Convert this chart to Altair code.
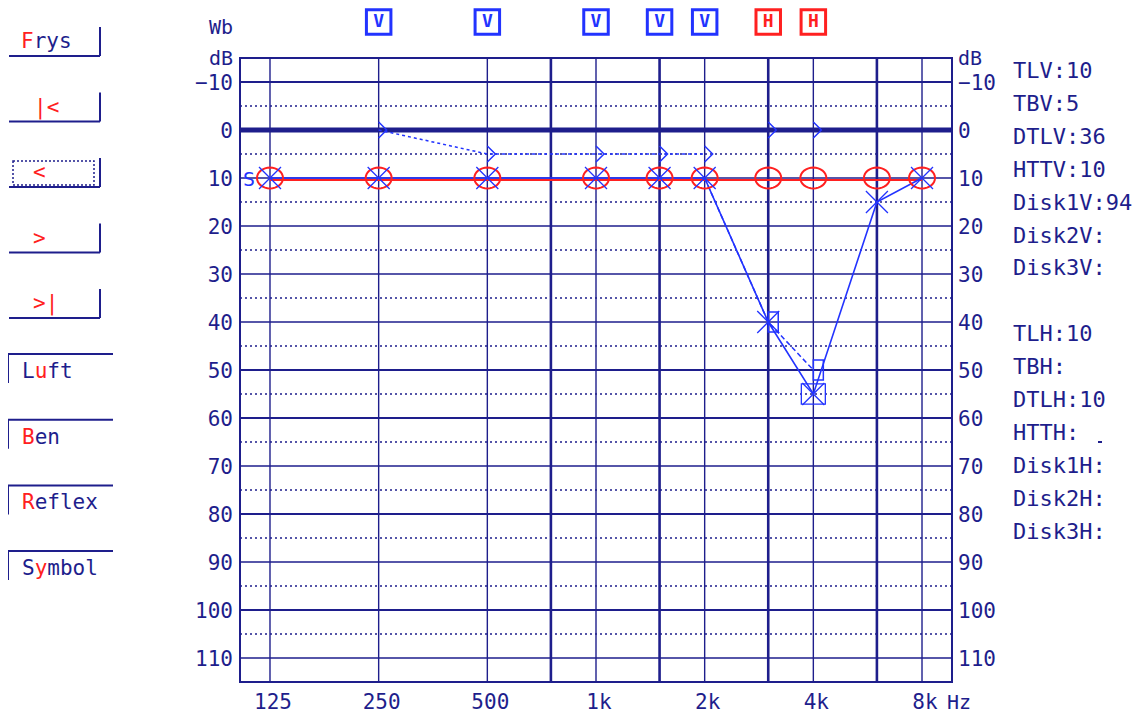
import math
import altair as alt
import pandas as pd

# ---------------- data ----------------
freqs = [125, 250, 500, 1000, 1500, 2000, 3000, 4000, 6000, 8000]
right_air_db = [10, 10, 10, 10, 10, 10, 10, 10, 10, 10]
left_air_db = [10, 10, 10, 10, 10, 10, 40, 55, 15, 10]

bone_freqs = [250, 500, 1000, 1500, 2000]
bone_db = [0, 5, 5, 5, 5]
bone_nr_freqs = [3000, 4000]
bone_nr_db = [0, 0]

masked_freqs = [2000, 3000, 4000]
masked_db = [10, 40, 50]
box_freqs = [4000]
box_db = [55]

flag_v_freqs = [250, 500, 1000, 1500, 2000]
flag_h_freqs = [3000, 4000]

db_major = [-10, 0, 10, 20, 30, 40, 50, 60, 70, 80, 90, 100, 110]
db_labels = ["−10", "0", "10", "20", "30", "40", "50", "60", "70", "80", "90", "100", "110"]
db_minor = [-5, 5, 15, 25, 35, 45, 55, 65, 75, 85, 95, 105]
freq_major = [125, 250, 500, 1000, 2000, 4000, 8000]
freq_labels = ["125", "250", "500", "1k", "2k", "4k", "8k"]
freq_minor = [750, 1500, 3000, 6000]

info_lines = ["TLV:10", "TBV:5", "DTLV:36", "HTTV:10", "Disk1V:94", "Disk2V:", "Disk3V:", "",
              "TLH:10", "TBH:", "DTLH:10", "HTTH:", "Disk1H:", "Disk2H:", "Disk3H:"]

nav_labels = ["Frys", "|<", "<", ">", ">|"]
nav_hot = [[0], [0, 1], [0], [0], [0, 1]]
mode_labels = ["Luft", "Ben", "Reflex", "Symbol"]
mode_hot = [[1], [0], [0], [1]]

# ---------------- style / layout ----------------
W, H = 712, 624
NAVY = "#1e1e8c"
BLUE = "#2233ff"
RED = "#ff2020"
FONT = "DejaVu Sans Mono"
FS = 21
CW = 0.602 * FS

xs = alt.Scale(type="log", base=2, domain=[125 * 2 ** -0.276, 8000 * 2 ** 0.276], nice=False)
ys = alt.Scale(domain=[-15, 115], nice=False, zero=False, reverse=True)


def X(f="f"):
    return alt.X(f"{f}:Q", scale=xs, axis=None)


def Y(f="db"):
    return alt.Y(f"{f}:Q", scale=ys, axis=None)


def PX(f):
    return alt.X(f"{f}:Q", scale=None, axis=None)


def PY(f):
    return alt.Y(f"{f}:Q", scale=None, axis=None)


def ellipse_path(ry=0.8, n=32):
    pts = [(math.cos(2 * math.pi * k / n), ry * math.sin(2 * math.pi * k / n)) for k in range(n)]
    return "M" + " L".join(f"{x:.3f},{y:.3f}" for x, y in pts) + " Z"


X_SHAPE = "M-1,-1L1,1M-1,1L1,-1"
BONE_SHAPE = "M0,-1L1,0L0,1"
TALL_RECT = "M0,-1L1,-1L1,1L0,1Z"
BOX_SHAPE = "M-1,-0.85L1,-0.85L1,0.85L-1,0.85Z"

# ---------------- tables ----------------
air = pd.DataFrame({"f": freqs, "right": right_air_db, "left": left_air_db})
bone = pd.DataFrame({"f": bone_freqs, "db": bone_db})
bone_all = pd.DataFrame({"f": bone_freqs + bone_nr_freqs, "db": bone_db + bone_nr_db})
masked = pd.DataFrame({"f": masked_freqs, "db": masked_db})
box = pd.DataFrame({"f": box_freqs, "db": box_db})
flags = pd.DataFrame({"f": flag_v_freqs + flag_h_freqs,
                      "t": ["V"] * len(flag_v_freqs) + ["H"] * len(flag_h_freqs)})
hmaj = pd.DataFrame({"db": db_major, "lab": db_labels})
hmin = pd.DataFrame({"db": db_minor})
vmaj = pd.DataFrame({"f": freq_major, "lab": freq_labels})
vmin = pd.DataFrame({"f": freq_minor})

# UI text, per character (monospace) so hotkey letters can be red
chars = []
rules = []
for i, (lab, hot) in enumerate(zip(nav_labels, nav_hot)):
    yb = 56 + i * 65.5 - 58
    x0 = [21, 34, 33, 33, 33][i] - 240
    for k, ch in enumerate(lab):
        chars.append({"px": x0 + k * CW + CW / 2, "py": yb - 14, "ch": ch, "c": RED if k in hot else NAVY})
    rules.append({"x1": 9 - 240, "x2": 100 - 240, "y1": yb, "y2": yb})
    rules.append({"x1": 100 - 240, "x2": 100 - 240, "y1": yb - 29, "y2": yb})
for i, (lab, hot) in enumerate(zip(mode_labels, mode_hot)):
    yt = 354 + i * 65.7 - 58
    x0 = 22 - 240
    for k, ch in enumerate(lab):
        chars.append({"px": x0 + k * CW + CW / 2, "py": yt + 18, "ch": ch, "c": RED if k in hot else NAVY})
    rules.append({"x1": 8 - 240, "x2": 113 - 240, "y1": yt, "y2": yt})
    rules.append({"x1": 8 - 240, "x2": 8 - 240, "y1": yt, "y2": yt + 29})
rules.append({"x1": 858, "x2": 862, "y1": 384, "y2": 384})
chars_df = pd.DataFrame(chars)
rules_df = pd.DataFrame(rules)
sel_df = pd.DataFrame({"x1": [13 - 240], "x2": [94 - 240], "y1": [161 - 58], "y2": [185 - 58]})
info_df = pd.DataFrame({"t": info_lines, "py": [13 + i * 32.9 for i in range(len(info_lines))],
                        "px": [773] * len(info_lines)})

# ---------------- layers ----------------
grid_minor = alt.Chart(hmin).mark_rule(color=NAVY, strokeDash=[2, 3], strokeWidth=1.4).encode(y=Y())
grid_major = alt.Chart(hmaj).transform_calculate(
    w="datum.db == 0 ? 5 : (indexof([-10, 50, 60, 80, 100], datum.db) >= 0 ? 2.2 : 1.3)"
).mark_rule(color=NAVY).encode(y=Y(), strokeWidth=alt.StrokeWidth("w:Q", scale=None, legend=None))
grid_v = alt.Chart(vmaj).mark_rule(color=NAVY, strokeWidth=1.4).encode(x=X())
grid_v2 = alt.Chart(vmin).mark_rule(color=NAVY, strokeWidth=2.6).encode(x=X())

red_line = alt.Chart(air).mark_line(color=RED, strokeWidth=1.8, yOffset=2).encode(x=X(), y=Y("right"))
blue_line = alt.Chart(air).mark_line(color=BLUE, strokeWidth=1.6).encode(x=X(), y=Y("left"))
mask_line = alt.Chart(masked).mark_line(color=BLUE, strokeWidth=1.5, strokeDash=[5, 3]).encode(x=X(), y=Y())
bone_line = alt.Chart(bone).mark_line(color=BLUE, strokeWidth=1.5, strokeDash=[3, 3]).encode(x=X(), y=Y())

red_pts = alt.Chart(air).mark_point(shape=ellipse_path(), size=676, filled=False, color=RED,
                                    strokeWidth=2, opacity=1).encode(x=X(), y=Y("right"))
blue_x = alt.Chart(air).mark_point(shape=X_SHAPE, size=484, filled=False, color=BLUE,
                                   strokeWidth=1.3, opacity=1).encode(x=X(), y=Y("left"))
mask_pts = alt.Chart(masked).transform_filter("datum.f > 2000").mark_point(
    shape=TALL_RECT, size=400, filled=False, color=BLUE, strokeWidth=1.5, opacity=1).encode(x=X(), y=Y())
box_pts = alt.Chart(box).mark_point(shape=BOX_SHAPE, size=576, filled=False, color=BLUE,
                                    strokeWidth=1.3, opacity=1).encode(x=X(), y=Y())
bone_pts = alt.Chart(bone_all).mark_point(shape=BONE_SHAPE, size=256, filled=False, color=BLUE,
                                          strokeWidth=1.5, opacity=1).encode(x=X(), y=Y())

flag_boxes = alt.Chart(flags).mark_point(shape="square", size=600, filled=True, fill="white",
                                         strokeWidth=3, opacity=1).encode(
    x=X(), y=alt.value(-36),
    stroke=alt.Stroke("t:N", scale=alt.Scale(domain=["V", "H"], range=[BLUE, RED]), legend=None))
flag_text = alt.Chart(flags).mark_text(font=FONT, fontSize=18, fontWeight="bold", baseline="middle").encode(
    x=X(), y=alt.value(-36), text="t:N",
    color=alt.Color("t:N", scale=alt.Scale(domain=["V", "H"], range=[BLUE, RED]), legend=None))

s_text = alt.Chart(pd.DataFrame({"db": [10]})).mark_text(
    font=FONT, fontSize=20, color=BLUE, baseline="middle", dy=2).encode(x=alt.value(9), y=Y(), text=alt.value("S"))

ylab_l = alt.Chart(hmaj).mark_text(font=FONT, fontSize=FS, color=NAVY, align="right", baseline="middle",
                                   dy=2).encode(x=alt.value(-7), y=Y(), text="lab:N")
ylab_r = alt.Chart(hmaj).mark_text(font=FONT, fontSize=FS, color=NAVY, align="left", baseline="middle",
                                   dy=2).encode(x=alt.value(W + 6), y=Y(), text="lab:N")
xlab = alt.Chart(vmaj).mark_text(font=FONT, fontSize=FS, color=NAVY, baseline="middle", dx=3).encode(
    x=X(), y=alt.value(H + 21), text="lab:N")
unit_txt = pd.DataFrame({"t": ["Wb", "dB", "dB", "Hz"], "px": [-7, -7, W + 6, W - 5], "py": [-30, 1, 1, H + 21],
                         "al": ["right", "right", "left", "left"]})
units_r = alt.Chart(unit_txt).transform_filter("datum.al == 'right'").mark_text(
    font=FONT, fontSize=20, color=NAVY, align="right", baseline="middle").encode(x=PX("px"), y=PY("py"), text="t:N")
units_l = alt.Chart(unit_txt).transform_filter("datum.al == 'left'").mark_text(
    font=FONT, fontSize=20, color=NAVY, align="left", baseline="middle").encode(x=PX("px"), y=PY("py"), text="t:N")

info = alt.Chart(info_df).mark_text(font=FONT, fontSize=22, color=NAVY, align="left", baseline="middle").encode(
    x=PX("px"), y=PY("py"), text="t:N")
btn_text = alt.Chart(chars_df).mark_text(font=FONT, fontSize=FS, align="center", baseline="middle").encode(
    x=PX("px"), y=PY("py"), text="ch:N", color=alt.Color("c:N", scale=None))
btn_rules = alt.Chart(rules_df).mark_rule(color=NAVY, strokeWidth=2).encode(
    x=PX("x1"), x2="x2:Q", y=PY("y1"), y2="y2:Q")
sel_rect = alt.Chart(sel_df).mark_rect(fillOpacity=0, stroke=NAVY, strokeDash=[2, 2], strokeWidth=1.5).encode(
    x=PX("x1"), x2="x2:Q", y=PY("y1"), y2="y2:Q")

chart = alt.layer(
    grid_minor, grid_major, grid_v, grid_v2,
    red_line, blue_line, mask_line, bone_line,
    red_pts, blue_x, mask_pts, box_pts, bone_pts,
    flag_boxes, flag_text, s_text,
    ylab_l, ylab_r, xlab, units_r, units_l,
    info, btn_text, btn_rules, sel_rect,
).properties(
    width=W, height=H,
    padding={"left": 232, "top": 50, "right": 180, "bottom": 31},
    autosize=alt.AutoSizeParams(type="none"),
    background="white",
).configure_view(stroke=NAVY, strokeWidth=2)

chart.save("out.html", embed_options={"renderer": "svg", "actions": False})
